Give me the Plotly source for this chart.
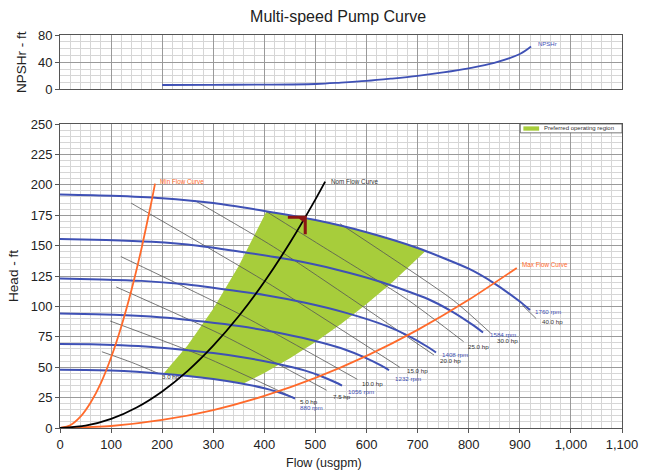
import plotly.graph_objects as go

# ---------------- data ----------------
# Speed curves: flow (usgpm) and head (ft)
q_1760 = [0, 100, 200, 300, 400, 500, 600, 700, 800, 850, 900, 920]
h_1760 = [192, 191, 189, 185, 178.5, 171, 161, 148, 131, 119, 104, 97]
q_1584 = [0, 90, 180, 270, 360, 450, 540, 630, 720, 765, 810, 828]
h_1584 = [155.5, 154.7, 153.1, 149.9, 144.6, 138.5, 130.4, 119.9, 106.1, 96.4, 84.2, 78.6]
q_1408 = [0, 80, 160, 240, 320, 400, 480, 560, 640, 680, 720, 736]
h_1408 = [122.9, 122.2, 121.0, 118.4, 114.2, 109.4, 103.0, 94.7, 83.8, 76.2, 66.6, 62.1]
q_1232 = [0, 70, 140, 210, 280, 350, 420, 490, 560, 595, 630, 644]
h_1232 = [94.1, 93.6, 92.6, 90.7, 87.5, 83.8, 78.9, 72.5, 64.2, 58.3, 51.0, 47.5]
q_1056 = [0, 60, 120, 180, 240, 300, 360, 420, 480, 510, 540, 552]
h_1056 = [69.1, 68.8, 68.0, 66.6, 64.3, 61.6, 58.0, 53.3, 47.2, 42.8, 37.4, 34.9]
q_880 = [0, 50, 100, 150, 200, 250, 300, 350, 400, 425, 450, 460]
h_880 = [48, 47.75, 47.25, 46.25, 44.6, 42.75, 40.25, 37, 32.75, 29.75, 26, 24.25]

speed_names = ["1760 rpm", "1584 rpm", "1408 rpm", "1232 rpm", "1056 rpm", "880 rpm"]
speed_q = [q_1760, q_1584, q_1408, q_1232, q_1056, q_880]
speed_h = [h_1760, h_1584, h_1408, h_1232, h_1056, h_880]
speed_label_q = [925, 837, 744, 652, 559, 466]
speed_label_h = [95.4, 76.5, 60.6, 40.9, 30.4, 17.0]

# Power lines (hp)
hp_names = ["3.0 hp", "5.0 hp", "7.5 hp", "10.0 hp", "15.0 hp", "20.0 hp", "25.0 hp", "30.0 hp", "40.0 hp"]
hp_q = [
    [82, 140, 192],
    [98, 280, 457],
    [110, 320, 522],
    [119, 350, 582],
    [139, 400, 665],
    [264, 418, 732],
    [404, 509, 682, 790],
    [548, 770, 843],
    [905, 932],
]
hp_h = [
    [62.7, 54, 45],
    [88, 59, 25],
    [116, 76, 31],
    [141, 94, 40],
    [185, 121, 50],
    [187, 149, 60],
    [178, 150.5, 105, 71],
    [168, 105, 78],
    [101, 90],
]
hp_label_q = [195, 466, 531, 588, 675, 740, 795, 851, 939]
hp_label_h = [42.2, 22.2, 26.3, 36.2, 46.9, 55.3, 67.4, 71.8, 87.2]

# System curves
min_q = [0, 20, 40, 60, 80, 100, 120, 140, 160, 180, 186]
min_h = [0, 2.3, 9.3, 21, 37, 58, 83.5, 113.7, 148.5, 188, 201]
nom_q = [0, 50, 100, 150, 200, 250, 300, 350, 400, 450, 500, 519]
nom_h = [0, 1.9, 7.5, 16.9, 30.1, 47, 67.7, 92.1, 120.3, 152.3, 188, 202.6]
max_q = [0, 100, 200, 300, 400, 500, 600, 700, 800, 894]
max_h = [0, 1.65, 6.6, 14.8, 26.4, 41.2, 59.3, 80.7, 105.4, 131.6]

# Preferred operating region boundary
pref_q = [202, 250, 300, 350, 404, 450, 500, 550, 600, 650, 700, 714,
          650, 600, 550, 500, 450, 400, 360, 300, 250, 202]
pref_h = [44.5, 68.1, 98.1, 133.5, 178, 175, 171, 166.5, 161, 155, 148, 145,
          119.6, 101.9, 85.6, 70.8, 57.3, 45.3, 36.7, 40.25, 42.75, 44.5]

# Best efficiency point marker at full speed
bep_q = [480]
bep_h = [173.3]

# NPSHr curve
npsh_q = [200, 300, 400, 500, 550, 600, 650, 700, 750, 800, 850, 900, 922]
npsh_h = [6.5, 6.8, 7, 8, 10, 12.5, 16, 20, 25, 31, 39, 52, 63]

x_ticks = [0, 100, 200, 300, 400, 500, 600, 700, 800, 900, 1000, 1100]

# ---------------- styles ----------------
BLUE = "#3F51B5"
ORANGE = "#FF6A2B"
GREEN = "#A7CD3B"
GRAY_LINE = "#555555"
DARKRED = "#8B1414"
FONT = "Liberation Sans, Arial, sans-serif"

fig = go.Figure()

# preferred region
fig.add_trace(go.Scatter(x=pref_q, y=pref_h, fill="toself", fillcolor=GREEN,
                         line=dict(width=0, color=GREEN), mode="lines",
                         hoverinfo="skip", showlegend=False))

# hp lines
for q, h in zip(hp_q, hp_h):
    fig.add_trace(go.Scatter(x=q, y=h, mode="lines",
                             line=dict(color=GRAY_LINE, width=0.8, shape="spline", smoothing=0.6),
                             showlegend=False, hoverinfo="skip"))

# speed curves
for q, h in zip(speed_q, speed_h):
    fig.add_trace(go.Scatter(x=q, y=h, mode="lines",
                             line=dict(color=BLUE, width=2, shape="spline", smoothing=0.6),
                             showlegend=False))

# system curves
fig.add_trace(go.Scatter(x=min_q, y=min_h, mode="lines",
                         line=dict(color=ORANGE, width=1.8, shape="spline", smoothing=0.6), showlegend=False))
fig.add_trace(go.Scatter(x=max_q, y=max_h, mode="lines",
                         line=dict(color=ORANGE, width=1.8, shape="spline", smoothing=0.6), showlegend=False))
fig.add_trace(go.Scatter(x=nom_q, y=nom_h, mode="lines",
                         line=dict(color="black", width=1.8, shape="spline", smoothing=0.6), showlegend=False))

# BEP marker (thick corner)
bq, bh = bep_q[0], bep_h[0]
fig.add_trace(go.Scatter(
    x=[bq - 34, bq + 3, bq + 3, bq - 3, bq - 3, bq - 12, bq - 34, bq - 34],
    y=[bh + 1.3, bh + 1.3, bh - 14, bh - 14, bh - 4, bh - 1.3, bh - 1.3, bh + 1.3],
    fill="toself", fillcolor=DARKRED, line=dict(width=0, color=DARKRED),
    mode="lines", showlegend=False, hoverinfo="skip"))

# NPSHr
fig.add_trace(go.Scatter(x=npsh_q, y=npsh_h, mode="lines", xaxis="x2", yaxis="y2",
                         line=dict(color=BLUE, width=1.8, shape="spline", smoothing=1.0),
                         showlegend=False))

annotations = []
for name, q, h in zip(speed_names, speed_label_q, speed_label_h):
    annotations.append(dict(x=q, y=h, text=name, showarrow=False, xanchor="left", yanchor="middle",
                            font=dict(size=6.2, color=BLUE, family=FONT)))
for name, q, h in zip(hp_names, hp_label_q, hp_label_h):
    annotations.append(dict(x=q, y=h, text=name, showarrow=False, xanchor="left", yanchor="middle",
                            font=dict(size=6.2, color="#333333", family=FONT)))
annotations += [
    dict(x=min_q[-1] + 6, y=min_h[-1] + 2, text="Min Flow Curve", showarrow=False, xanchor="left",
         yanchor="middle", font=dict(size=6.3, color=ORANGE, family=FONT)),
    dict(x=nom_q[-1] + 8, y=nom_h[-1], text="Nom Flow Curve", showarrow=False, xanchor="left",
         yanchor="middle", font=dict(size=6.3, color="#333333", family=FONT)),
    dict(x=max_q[-1] + 6, y=max_h[-1] + 3, text="Max Flow Curve", showarrow=False, xanchor="left",
         yanchor="middle", font=dict(size=6.3, color=ORANGE, family=FONT)),
    dict(x=npsh_q[-1] + 10, y=npsh_h[-1] + 4, xref="x2", yref="y2", text="NPSHr", showarrow=False,
         xanchor="left", yanchor="middle", font=dict(size=6, color=BLUE, family=FONT)),
    dict(x=0.4695, y=-0.066, xref="paper", yref="paper", text="Flow (usgpm)", showarrow=False,
         xanchor="center", yanchor="top", font=dict(size=12.5, color="#222", family=FONT)),
    dict(x=0.857, y=0.7735 - 0.0112, xref="paper", yref="paper", text="Preferred operating region",
         showarrow=False, xanchor="left", yanchor="middle", font=dict(size=6, color="#333", family=FONT)),
]

shapes = [
    dict(type="rect", xref="paper", yref="paper", x0=0.819, x1=1.0, y0=0.7735 - 0.0225, y1=0.7735,
         line=dict(color="#555", width=0.8), fillcolor="white", layer="above"),
    dict(type="rect", xref="paper", yref="paper", x0=0.8245, x1=0.8525, y0=0.7735 - 0.017, y1=0.7735 - 0.006,
         line=dict(width=0), fillcolor=GREEN, layer="above"),
]

axis_common = dict(showline=True, linecolor="#555", linewidth=1, mirror=True,
                   gridcolor="#9a9a9a", gridwidth=1, zeroline=False,
                   tickfont=dict(size=13, color="#222", family=FONT))

fig.update_layout(
    width=649, height=472,
    margin=dict(l=60, r=27, t=35, b=44),
    paper_bgcolor="white", plot_bgcolor="white",
    title=dict(text="Multi-speed Pump Curve", x=0.521, xanchor="center", y=0.965, yanchor="middle",
               font=dict(size=16, color="#222", family=FONT)),
    showlegend=False,
    xaxis=dict(range=[0, 1100], tickvals=x_ticks, tickformat=",", anchor="y", domain=[0, 1],
               ticks="outside", ticklen=4, tickcolor="#555",
               minor=dict(dtick=20, showgrid=True, gridcolor="#d6d6d6", gridwidth=1),
               **axis_common),
    yaxis=dict(range=[0, 250], dtick=25, domain=[0, 0.7735], anchor="x",
               ticks="outside", ticklen=4, tickcolor="#555",
               minor=dict(dtick=5, showgrid=True, gridcolor="#d6d6d6", gridwidth=1),
               title=dict(text="Head - ft", font=dict(size=13.5, color="#222", family=FONT), standoff=8),
               **axis_common),
    xaxis2=dict(range=[0, 1100], dtick=100, anchor="y2", matches="x", showticklabels=False,
                minor=dict(dtick=20, showgrid=True, gridcolor="#d6d6d6", gridwidth=1),
                **axis_common),
    yaxis2=dict(range=[0, 80], dtick=40, domain=[0.8615, 1], anchor="x2",
                ticks="outside", ticklen=4, tickcolor="#555",
                minor=dict(dtick=10, showgrid=True, gridcolor="#d6d6d6", gridwidth=1),
                title=dict(text="NPSHr - ft", font=dict(size=13.5, color="#222", family=FONT), standoff=8),
                **axis_common),
    annotations=annotations,
    shapes=shapes,
)

fig.write_html("out.html", config={"displayModeBar": False},
               post_script="document.body.style.margin='0px';")
